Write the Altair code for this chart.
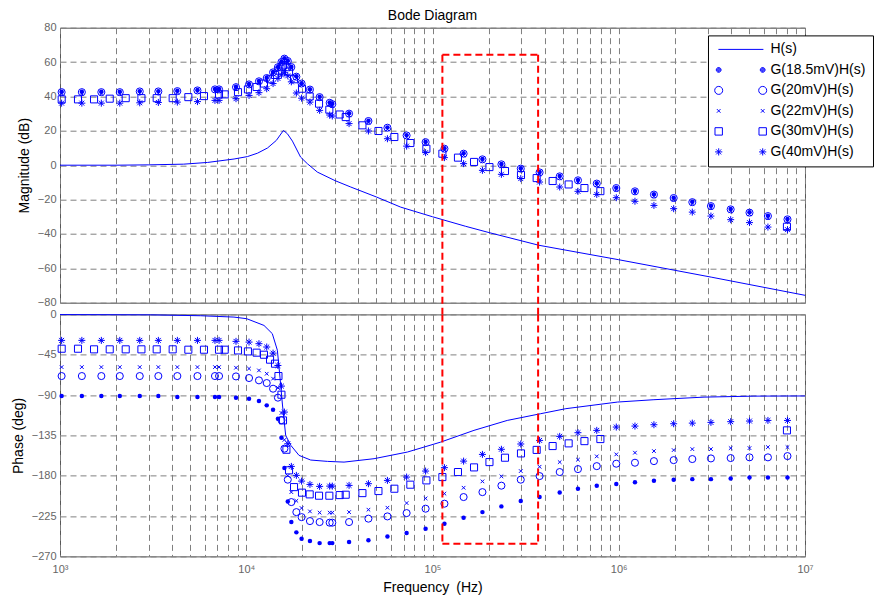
import altair as alt
import pandas as pd

BLUE = "#0000ff"
RED = "#ff0000"
FONT = "Liberation Sans"

series_names = ["H(s)", "G(18.5mV)H(s)", "G(20mV)H(s)", "G(22mV)H(s)", "G(30mV)H(s)", "G(40mV)H(s)"]

# ---- H(s) curve ----
h_mag_freq = [1000, 2000, 3000, 4600, 6200, 8600, 10140, 11500, 13000, 14500, 15830, 16630, 17700,
              19580, 21270, 24080, 30000, 36400, 50000, 67500, 100000, 150000, 201000, 373000,
              1000000, 3162000, 10000000]
h_mag_db = [0.0, 0.0, 0.2, 0.6, 1.6, 3.6, 5.0, 7.0, 10.0, 14.4, 20.2, 18.3, 14.0,
            4.7, 0.9, -4.0, -9.0, -12.7, -18.5, -24.4, -30.0, -35.5, -39.2, -46.6,
            -55.0, -65.2, -75.7]
h_phase_freq = [1000, 3069, 5690, 8590, 10050, 12450, 13800, 14690, 15170, 15630, 16280, 17330,
                19200, 22180, 27280, 33500, 48550, 73300, 110600, 167000, 252000, 381000,
                520000, 985000, 1545000, 2870000, 5320000, 10000000]
h_phase_deg = [-0.2, -0.5, -1.5, -3.0, -4.8, -12.3, -21.5, -40.0, -70.0, -100.0, -135.0, -146.0,
               -157.3, -162.5, -164.0, -164.8, -161.0, -153.6, -142.5, -129.4, -118.3, -110.8,
               -105.2, -97.8, -95.2, -92.3, -91.2, -91.0]

# ---- measured points: 18.5 / 20 / 22 / 40 mV share these frequencies ----
freq_a = [1020, 1310, 1667, 2094, 2680, 3373, 4266, 5470, 6792, 7145, 8810, 10350, 11700, 12880,
          13930, 14790, 15450, 16030, 16710, 17460, 18580, 19820, 21980, 24770, 28050, 28970,
          35650, 45290, 57280, 72610, 91830, 115900, 146900, 185400, 234400, 297800, 375800,
          482000, 604000, 762000, 970000, 1222000, 1545000, 1972000, 2483000, 3126000, 3990000,
          5035000, 6324000, 8054000]

mag_18_5 = [42.7, 42.7, 42.7, 42.7, 43.1, 43.1, 43.3, 43.7, 44.3, 44.3, 45.6, 47.2, 49.0, 50.9,
            54.2, 57.2, 60.2, 62.2, 60.8, 57.3, 51.7, 47.7, 44.2, 39.8, 36.5, 35.7, 30.2, 25.9,
            22.0, 17.5, 13.6, 9.8, 6.9, 3.6, 0.7, -1.8, -4.0, -6.3, -8.6, -10.5, -13.1, -15.0,
            -16.9, -18.9, -21.3, -23.6, -25.5, -27.4, -29.4, -31.3]
phase_18_5 = [-91.1, -91.1, -91.1, -91.1, -91.1, -91.1, -92.2, -92.2, -92.2, -92.2, -93.0, -94.1,
              -96.7, -101.5, -106.3, -116.4, -137.6, -171.5, -208.7, -231.7, -243.2, -250.3,
              -252.9, -255.2, -255.2, -255.2, -254.0, -252.1, -247.7, -244.0, -239.1, -233.5,
              -226.8, -220.6, -214.2, -208.3, -203.8, -198.6, -194.5, -191.1, -189.3, -187.4,
              -185.5, -184.4, -183.8, -183.8, -183.0, -181.9, -181.9, -181.9]

mag_20 = [42.5, 42.5, 42.5, 42.5, 42.9, 42.9, 43.1, 43.5, 44.1, 44.1, 45.4, 47.0, 48.8, 50.7,
          54.0, 57.0, 60.0, 62.0, 60.6, 57.1, 51.5, 47.5, 44.0, 39.6, 36.3, 35.5, 30.0, 25.7,
          21.8, 17.3, 13.4, 9.6, 6.7, 3.4, 0.5, -2.0, -4.2, -6.5, -8.8, -10.7, -13.3, -15.2,
          -17.1, -19.1, -21.5, -23.8, -25.7, -27.6, -29.6, -31.5]
phase_20 = [-68.8, -68.8, -68.8, -68.8, -68.8, -68.8, -68.8, -68.8, -68.8, -68.8, -69.2, -71.0,
            -73.6, -76.6, -82.9, -92.9, -118.0, -149.8, -184.4, -209.4, -220.6, -226.2, -230.6,
            -231.7, -232.4, -232.4, -231.7, -227.9, -225.4, -221.7, -216.8, -211.2, -203.8,
            -198.3, -191.1, -184.4, -180.4, -175.9, -172.6, -169.3, -166.6, -165.5, -163.7,
            -162.6, -161.4, -160.7, -160.3, -159.5, -159.5, -158.1]

mag_22 = [41.5, 41.5, 41.5, 41.5, 41.9, 41.9, 42.1, 42.5, 43.1, 43.1, 44.4, 46.0, 47.8, 49.7,
          53.0, 56.0, 59.0, 61.0, 59.6, 56.1, 50.5, 46.5, 43.0, 38.6, 35.3, 34.5, 29.0, 24.7,
          20.8, 16.3, 12.4, 8.6, 5.7, 2.4, -0.5, -3.0, -5.2, -7.5, -9.8, -11.7, -14.3, -16.2,
          -18.1, -20.1, -22.5, -24.8, -26.7, -28.6, -30.6, -32.5]
phase_22 = [-58.8, -58.8, -58.8, -58.8, -58.8, -58.8, -58.8, -58.8, -58.8, -58.8, -59.5, -60.5,
            -62.5, -66.2, -71.7, -82.0, -110.0, -140.0, -180.0, -198.3, -208.0, -216.1, -219.8,
            -221.2, -221.2, -221.2, -220.6, -217.9, -215.7, -210.5, -205.3, -200.0, -193.4,
            -186.3, -180.7, -174.8, -170.0, -164.8, -162.1, -158.4, -156.2, -154.3, -152.5,
            -151.4, -150.3, -150.3, -149.2, -149.2, -148.1, -148.1]

mag_40 = [36.1, 36.1, 36.1, 36.1, 36.3, 36.5, 36.7, 37.0, 37.7, 37.7, 38.7, 40.6, 42.2, 44.5,
          47.5, 50.5, 52.5, 53.8, 52.0, 48.5, 42.0, 39.0, 36.7, 31.9, 29.2, 28.6, 24.2, 19.9,
          15.4, 11.1, 7.3, 4.4, 0.9, -3.0, -5.3, -7.8, -9.8, -12.7, -15.2, -17.0, -18.9, -21.0,
          -23.4, -25.3, -27.3, -29.6, -31.7, -33.4, -36.0, -37.5]
phase_40 = [-29.0, -29.0, -29.0, -29.0, -29.0, -29.0, -29.0, -29.0, -29.0, -29.0, -30.1, -30.9,
            -32.7, -36.4, -43.2, -57.0, -80.0, -109.0, -144.3, -169.6, -179.6, -186.0, -189.7,
            -191.9, -191.6, -191.6, -190.8, -188.9, -185.2, -181.5, -174.8, -171.0, -163.7,
            -156.2, -150.5, -144.6, -140.6, -136.1, -132.0, -129.4, -125.7, -124.6, -123.1,
            -122.0, -121.3, -120.5, -119.7, -119.0, -118.3, -118.3]

# ---- 30 mV uses its own frequencies ----
freq_30 = [1021, 1249, 1523, 1849, 2253, 2736, 3305, 4027, 4887, 5929, 7140, 7660, 9030, 10210,
           11370, 12450, 13420, 14270, 14890, 15450, 15750, 16430, 16970, 18050, 19920, 21910,
           24590, 27930, 31740, 34200, 42050, 51260, 62400, 76050, 92730, 113000, 137000, 167100,
           202200, 245000, 298600, 362500, 441600, 538300, 654300, 796800, 8000000]
mag_30 = [38.3, 38.3, 38.3, 38.7, 39.0, 39.0, 39.0, 39.0, 39.6, 40.2, 41.2, 41.2, 42.5, 44.1,
          45.5, 47.5, 50.0, 52.5, 55.0, 57.0, 58.0, 57.0, 54.5, 50.0, 44.5, 40.0, 35.8, 32.3,
          29.5, 28.0, 23.2, 19.9, 16.4, 12.9, 9.6, 6.7, 4.4, 1.9, -1.1, -3.4, -5.7, -7.5, -9.2,
          -11.2, -13.3, -15.1, -35.8]
phase_30 = [-38.3, -38.3, -39.0, -39.0, -39.0, -39.0, -39.0, -39.0, -39.4, -39.4, -39.4, -39.4,
            -40.2, -41.3, -42.7, -45.0, -50.5, -55.0, -68.8, -89.6, -118.3, -151.0, -174.0,
            -192.7, -198.9, -200.8, -202.3, -202.3, -201.6, -201.2, -199.4, -197.1, -194.5,
            -190.0, -185.2, -181.5, -175.9, -170.7, -164.8, -159.9, -155.1, -151.2, -146.9,
            -143.9, -141.4, -139.1, -129.4]

# ---- axes / annotation ----
x_tick_labels = ["10³", "10⁴", "10⁵", "10⁶", "10⁷"]
mag_ticks = [-80, -60, -40, -20, 0, 20, 40, 60, 80]
phase_ticks = [-270, -225, -180, -135, -90, -45, 0]
box_freq = [113000, 369000]
box_top_db = 64.3
box_gap_db = -87.0
box_bottom_deg = -255.8

# ---------------------------------------------------------------
W, H_TOP, H_BOT = 745, 275, 242

grid_vals = [m * 10 ** e for e in range(3, 7) for m in range(1, 10)] + [10 ** 7]
label_expr = ("abs(datum.value-1000)<1 ? '%s' : abs(datum.value-10000)<1 ? '%s' : "
              "abs(datum.value-100000)<1 ? '%s' : abs(datum.value-1000000)<1 ? '%s' : "
              "abs(datum.value-10000000)<1 ? '%s' : ''") % tuple(x_tick_labels)

xscale = alt.Scale(type="log", domain=[1000, 10000000], nice=False)
xaxis_top = alt.Axis(values=grid_vals, labels=False, title=None)
xaxis_bot = alt.Axis(values=grid_vals, labelExpr=label_expr, labelOverlap=False, labelFlush=False,
                     labelPadding=7, title="Frequency\u2002(Hz)", titlePadding=6)

magscale = alt.Scale(domain=[-80, 80], nice=False, zero=False)
phscale = alt.Scale(domain=[-270, 0], nice=False, zero=False)
magaxis = alt.Axis(values=mag_ticks, title="Magnitude (dB)", titleX=-35.3, titleY=H_TOP / 2,
                   titleBaseline="middle", labelPadding=4)
phaxis = alt.Axis(values=phase_ticks, title="Phase (deg)", titleX=-41.3, titleY=H_BOT / 2,
                  titleBaseline="middle", labelPadding=4)


def long_df(freqs, vals):
    return pd.DataFrame({"f": freqs, "v": vals})


marker_styles = [
    (freq_a, mag_18_5, phase_18_5, dict(shape="circle", size=20, filled=True)),
    (freq_a, mag_20, phase_20, dict(shape="circle", size=50, filled=False)),
    (freq_a, mag_22, phase_22, dict(shape="M-1,-1L1,1M-1,1L1,-1", size=13, filled=False)),
    (freq_30, mag_30, phase_30, dict(shape="square", size=50, filled=False)),
    (freq_a, mag_40, phase_40, dict(shape="M-1,0L1,0M0,-1L0,1M-0.7,-0.7L0.7,0.7M-0.7,0.7L0.7,-0.7",
                                    size=49, filled=False)),
]


def panel(hf, hv, which, xaxis, yscale, yaxis):
    X = alt.X("f:Q", scale=xscale, axis=xaxis)
    Y = alt.Y("v:Q", scale=yscale, axis=yaxis)
    layers = [alt.Chart(long_df(hf, hv)).mark_line(color=BLUE, strokeWidth=1).encode(x=X, y=Y)]
    for fa, mg, ph, st in marker_styles:
        vals = mg if which == "mag" else ph
        layers.append(
            alt.Chart(long_df(fa, vals)).mark_point(color=BLUE, strokeWidth=1, opacity=1, **st)
            .encode(x=X, y=Y)
        )
    return layers, X, Y


# --- red dashed box ---
red = dict(color=RED, strokeDash=[7, 4], strokeWidth=2)

top_layers, Xt, Yt = panel(h_mag_freq, h_mag_db, "mag", xaxis_top, magscale, magaxis)
top_layers.append(
    alt.Chart(pd.DataFrame({"f": box_freq, "v": [box_top_db] * 2, "v2": [box_gap_db] * 2}))
    .mark_rule(**red).encode(x=Xt, y=Yt, y2="v2:Q"))
top_layers.append(
    alt.Chart(pd.DataFrame({"f": [box_freq[0]], "f2": [box_freq[1]], "v": [box_top_db]}))
    .mark_rule(**red).encode(x=Xt, x2="f2:Q", y=Yt))

# --- legend (MATLAB style: marker - marker  label) ---
lm, rm = -3.3, 40.7


def circ(cx, r):
    return f"M{cx - r},0a{r},{r} 0 1,0 {2 * r},0a{r},{r} 0 1,0 {-2 * r},0"


def dot(cx):
    return circ(cx, 2.4) + circ(cx, 1.6) + circ(cx, 0.8)


def sq(cx, h):
    return f"M{cx - h},{-h}h{2 * h}v{2 * h}h{-2 * h}Z"


def xm(cx, h):
    return f"M{cx - h},{-h}L{cx + h},{h}M{cx - h},{h}L{cx + h},{-h}"


def star(cx, h):
    d = 0.7 * h
    return (f"M{cx - h},0L{cx + h},0M{cx},{-h}L{cx},{h}"
            f"M{cx - d},{-d}L{cx + d},{d}M{cx - d},{d}L{cx + d},{-d}")


legend_paths = [
    f"M{lm - 0.3},0L{rm + 0.7},0",
    dot(lm) + dot(rm),
    circ(lm, 4) + circ(rm, 4),
    xm(lm, 1.8) + xm(rm, 1.8),
    sq(lm, 3.7) + sq(rm, 3.7),
    star(lm, 3.6) + star(rm, 3.6),
]

leg = alt.Legend(orient="none", legendX=648, legendY=7.7, title=None, labelFont=FONT,
                 labelFontSize=14, labelColor="black", labelOffset=41.5, rowPadding=6.5, padding=7,
                 fillColor="white", strokeColor="black", symbolSize=4, symbolStrokeWidth=1,
                 symbolOpacity=1, symbolStrokeColor=BLUE, symbolFillColor="transparent",
                 labelLimit=300, cornerRadius=0,
                 labelExpr="datum.label + '\u00a0\u00a0'")
top_layers.append(
    alt.Chart(pd.DataFrame({"series": series_names}))
    .mark_point(opacity=0, size=4, strokeWidth=1, color=BLUE, filled=False)
    .encode(shape=alt.Shape("series:N", scale=alt.Scale(domain=series_names, range=legend_paths),
                            legend=leg, sort=series_names))
)

top = alt.layer(*top_layers).properties(
    width=W, height=H_TOP,
    title=alt.TitleParams("Bode Diagram", fontSize=14, font=FONT, fontWeight="normal",
                          color="black", anchor="middle", offset=-0.9))

bot_layers, Xb, Yb = panel(h_phase_freq, h_phase_deg, "phase", xaxis_bot, phscale, phaxis)
bot_layers.append(
    alt.Chart(pd.DataFrame({"f": box_freq, "v": [0.0] * 2, "v2": [box_bottom_deg] * 2}))
    .mark_rule(**red).encode(x=Xb, y=Yb, y2="v2:Q"))
bot_layers.append(
    alt.Chart(pd.DataFrame({"f": [box_freq[0]], "f2": [box_freq[1]], "v": [box_bottom_deg]}))
    .mark_rule(**red).encode(x=Xb, x2="f2:Q", y=Yb))
bot = alt.layer(*bot_layers).properties(width=W, height=H_BOT)

chart = (
    alt.vconcat(top, bot, spacing=11.7, bounds="flush")
    .resolve_legend(shape="independent")
    .properties(padding={"left": 3, "top": -0.3, "right": 0, "bottom": 0}, background="white")
    .configure(font=FONT)
    .configure_view(stroke="#555555", strokeWidth=1)
    .configure_axis(gridColor="#7f7f7f", gridDash=[6, 4], gridWidth=1, gridOpacity=1,
                    ticks=False, domain=False, labelColor="#666666", labelFontSize=11,
                    labelFont=FONT, titleFont=FONT, titleFontSize=14, titleFontWeight="normal",
                    titleColor="black")
)

chart.save("out.html", embed_options={"renderer": "svg", "actions": False})
